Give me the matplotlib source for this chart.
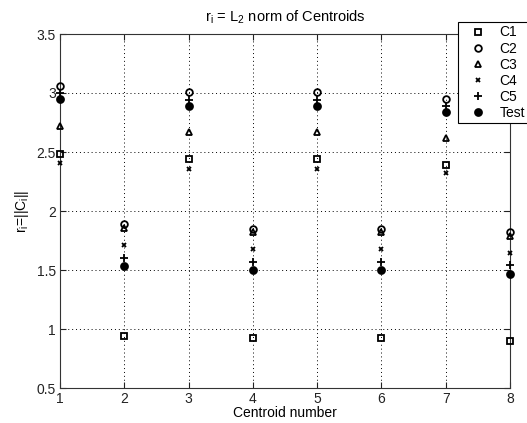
import matplotlib
matplotlib.use("Agg")
import matplotlib.pyplot as plt

plt.rcParams['font.family'] = ['Liberation Sans', 'DejaVu Sans']
plt.rcParams['mathtext.fontset'] = 'custom'
plt.rcParams['mathtext.rm'] = 'Liberation Sans'

centroids = [1, 2, 3, 4, 5, 6, 7, 8]
c1 = [2.48, 0.94, 2.44, 0.92, 2.44, 0.92, 2.39, 0.90]
c2 = [3.06, 1.89, 3.01, 1.85, 3.01, 1.85, 2.95, 1.82]
c3 = [2.72, 1.86, 2.67, 1.82, 2.67, 1.82, 2.62, 1.79]
c4 = [2.41, 1.71, 2.36, 1.68, 2.36, 1.68, 2.32, 1.64]
c5 = [3.00, 1.60, 2.94, 1.57, 2.94, 1.57, 2.89, 1.54]
test = [2.95, 1.53, 2.89, 1.50, 2.89, 1.50, 2.84, 1.47]

series = [
    ("C1", c1, 's', 'none', 4.5),
    ("C2", c2, 'o', 'none', 4.8),
    ("C3", c3, '^', 'none', 5.0),
    ("C4", c4, 'x', 'none', 3.5),
    ("C5", c5, '+', 'none', 5.5),
    ("Test", test, 'o', 'black', 5.0),
]

W, H = 527, 423
fig = plt.figure(figsize=(W / 100, H / 100), dpi=100)
ax = fig.add_axes([60 / W, 1 - 388 / H, 450 / W, 354 / H])

handles = []
for name, vals, mk, fc, ms in series:
    h, = ax.plot(centroids, vals, linestyle='none', marker=mk, markersize=ms,
                 markerfacecolor=fc, markeredgecolor='black', markeredgewidth=1.3,
                 color='black', label=name, clip_on=False, zorder=3)
    handles.append(h)

ax.set_xlim(1, 8)
ax.set_ylim(0.5, 3.5)
ax.set_xticks(range(1, 9))
ax.set_yticks([0.5, 1, 1.5, 2, 2.5, 3, 3.5])
ax.set_yticklabels(['0.5', '1', '1.5', '2', '2.5', '3', '3.5'])
ax.grid(True, linestyle=(0, (1, 3)), color='black', linewidth=0.7)
ax.tick_params(direction='in', length=4, labelsize=10, colors='#222222',
               top=True, right=True, width=0.8, pad=3)
for s in ax.spines.values():
    s.set_color('#333333')
    s.set_linewidth(0.8)

ax.set_title(r'r$_{\rm i}$ = L$_{\rm 2}$ norm of Centroids', fontsize=10.5, pad=9)
ax.set_xlabel('Centroid number', fontsize=10, labelpad=0)
ax.set_ylabel(r'r$_{\rm i}$=||C$_{\rm i}$||', fontsize=10, labelpad=4)

leg = fig.legend(handles=handles, loc='upper left',
                 bbox_to_anchor=(458 / W, 1 - 22 / H), fontsize=10,
                 frameon=True, fancybox=False, framealpha=1,
                 edgecolor='black', borderpad=0.25, labelspacing=0.15,
                 handlelength=2.4, handletextpad=0.35, borderaxespad=0)
leg.get_frame().set_linewidth(0.8)

fig.savefig('out.png', dpi=100)
